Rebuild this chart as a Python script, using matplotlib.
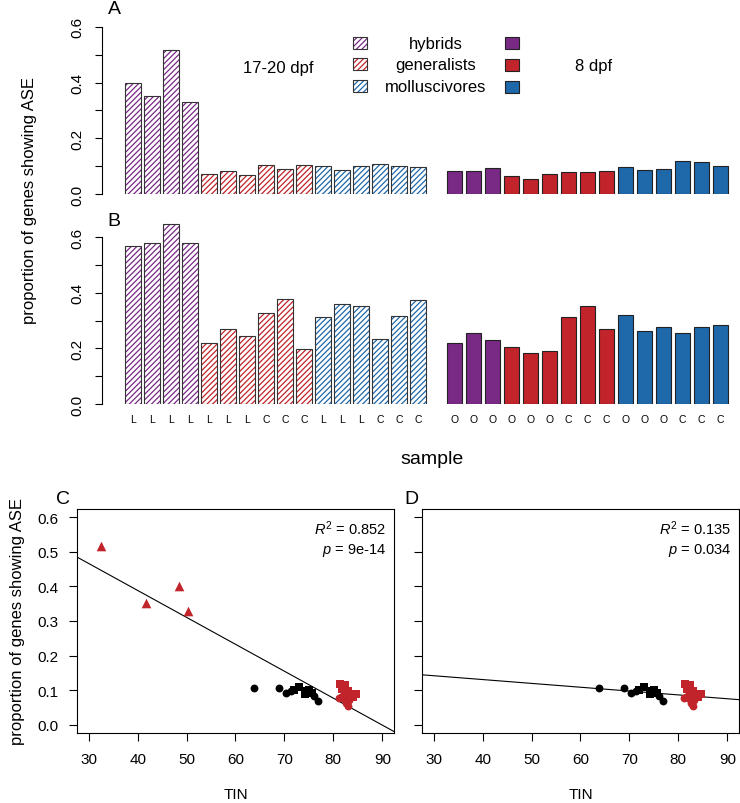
import matplotlib
matplotlib.use('Agg')
import matplotlib.pyplot as plt
from matplotlib.patches import Rectangle
import numpy as np

plt.rcParams['font.family'] = ['Liberation Sans', 'DejaVu Sans']
plt.rcParams['mathtext.fontset'] = 'custom'
plt.rcParams['mathtext.rm'] = 'Liberation Sans'
plt.rcParams['mathtext.it'] = 'Liberation Sans:italic'
plt.rcParams['hatch.linewidth'] = 0.9

# --- bar data: 17-20 dpf (hatched) and 8 dpf (solid)
grp_old = ['hybrids'] * 4 + ['generalists'] * 6 + ['molluscivores'] * 6
grp_new = ['hybrids'] * 3 + ['generalists'] * 6 + ['molluscivores'] * 6
ase_A_old = [0.399, 0.353, 0.517, 0.329, 0.073, 0.083, 0.069, 0.105, 0.090, 0.105,
             0.100, 0.086, 0.100, 0.108, 0.102, 0.098]
ase_A_new = [0.081, 0.081, 0.092, 0.063, 0.055, 0.072, 0.078, 0.078, 0.081,
             0.098, 0.087, 0.088, 0.117, 0.114, 0.102]
ase_B_old = [0.567, 0.579, 0.648, 0.579, 0.218, 0.269, 0.245, 0.329, 0.378, 0.198,
             0.313, 0.361, 0.352, 0.235, 0.318, 0.375]
ase_B_new = [0.220, 0.257, 0.230, 0.204, 0.182, 0.190, 0.313, 0.351, 0.271,
             0.319, 0.262, 0.278, 0.257, 0.277, 0.286]
lab_old = list('LLLLLLLCCCLLLCCC')
lab_new = list('OOOOOOCCCOOOCCC')
legend_names = ['hybrids', 'generalists', 'molluscivores']

# --- scatter data: TIN vs proportion showing ASE
tin_tri = [32.6, 41.8, 48.5, 50.3]
ase_tri = [0.518, 0.353, 0.401, 0.329]
tin_blk_circ = [63.7, 68.8, 70.4, 71.4, 76.0, 76.8]
ase_blk_circ = [0.105, 0.105, 0.091, 0.098, 0.083, 0.069]
tin_blk_sq = [72.0, 73.0, 74.2, 74.5, 75.0, 75.6]
ase_blk_sq = [0.100, 0.108, 0.090, 0.097, 0.100, 0.092]
tin_red_sq = [81.3, 82.4, 81.8, 83.0, 83.4, 84.6, 84.0]
ase_red_sq = [0.117, 0.114, 0.102, 0.098, 0.087, 0.088, 0.081]
tin_red_circ = [82.2, 81.5, 82.0, 82.6, 81.2, 83.2, 82.5, 82.9]
ase_red_circ = [0.088, 0.081, 0.078, 0.081, 0.078, 0.072, 0.063, 0.055]
fit_C = (0.70, -0.00779)   # intercept, slope
fit_D = (0.175, -0.00111)
stats_C = ('0.852', '9e-14')
stats_D = ('0.135', '0.034')

col = {'hybrids': '#782A85', 'generalists': '#C1242B', 'molluscivores': '#1F68AA'}
red = '#C1242B'
edge = '#333333'

W, H = 740, 804
fig = plt.figure(figsize=(W / 100, H / 100), dpi=100)


def box(l, t, r, b):
    return [l / W, 1 - b / H, (r - l) / W, (b - t) / H]


def fp(x, y):
    return (x / W, 1 - y / H)


pos_old = np.arange(len(ase_A_old)) * 1.2 + 0.5
pos_new = 20.32 + np.arange(len(ase_A_new)) * 1.2 + 0.5
c_old = [col[g] for g in grp_old]
c_new = [col[g] for g in grp_new]


def bar_panel(rect, ylim, v_old, v_new):
    ax = fig.add_axes(rect)
    ax.bar(pos_old, v_old, width=1, color='none', edgecolor=c_old, hatch='//////', linewidth=0)
    ax.bar(pos_old, v_old, width=1, fill=False, edgecolor=edge, linewidth=0.8)
    ax.bar(pos_new, v_new, width=1, color=c_new, edgecolor='#222222', linewidth=0.8)
    ax.set_xlim(-1.45, 38.85)
    ax.set_ylim(*ylim)
    for s in ['top', 'right', 'bottom']:
        ax.spines[s].set_visible(False)
    ax.spines['left'].set_bounds(0, 0.6)
    ax.spines['left'].set_linewidth(0.8)
    ax.set_yticks(np.arange(0, 0.61, 0.1))
    ax.set_yticklabels(['0.0', '', '0.2', '', '0.4', '', '0.6'])
    ax.tick_params(axis='y', length=5, width=0.8, labelsize=11, pad=8)
    plt.setp(ax.get_yticklabels(), rotation=90, va='center', ha='right')
    return ax


axA = bar_panel(box(102, 14, 740, 195), (0, 0.65), ase_A_old, ase_A_new)
axA.set_xticks([])
axB = bar_panel(box(102, 216, 740, 405), (0, 0.68), ase_B_old, ase_B_new)
axB.set_xticks(np.concatenate([pos_old, pos_new]))
axB.set_xticklabels(lab_old + lab_new)
axB.tick_params(axis='x', length=0, labelsize=7.5, pad=7)

# legend A
for i, name in enumerate(legend_names):
    yc = [43.5, 64.5, 86.5][i]
    x0, y0 = fp(353, yc + 6)
    fig.add_artist(Rectangle((x0, y0), 14 / W, 12 / H, transform=fig.transFigure,
                             facecolor='none', edgecolor=col[name], hatch='//////', linewidth=0))
    fig.add_artist(Rectangle((x0, y0), 14 / W, 12 / H, transform=fig.transFigure,
                             fill=False, edgecolor=edge, linewidth=0.8))
    fig.text(*fp(436, yc + 1), name, ha='center', va='center', fontsize=12)
    yc2 = [43.5, 65.5, 88][i]
    x0, y0 = fp(505, yc2 + 6)
    fig.add_artist(Rectangle((x0, y0), 14 / W, 12 / H, transform=fig.transFigure,
                             facecolor=col[name], edgecolor='#222222', linewidth=0.8))
fig.text(*fp(278, 68), '17-20 dpf', ha='center', va='center', fontsize=12)
fig.text(*fp(594, 67), '8 dpf', ha='center', va='center', fontsize=12)

fig.text(*fp(114, 9), 'A', ha='center', va='center', fontsize=14)
fig.text(*fp(114, 222), 'B', ha='center', va='center', fontsize=14)
fig.text(*fp(30, 200), 'proportion of genes showing ASE', rotation=90,
         ha='center', va='center', fontsize=12)
fig.text(*fp(432, 460), 'sample', ha='center', va='center', fontsize=14)


# scatter panels
def scatter_panel(rect, fit, stats, tri):
    ax = fig.add_axes(rect)
    if tri:
        ax.scatter(tin_tri, ase_tri, marker='^', s=48, color=red, linewidths=0, zorder=3)
    ax.scatter(tin_blk_circ, ase_blk_circ, marker='o', s=32, color='black', linewidths=0, zorder=3)
    ax.scatter(tin_blk_sq, ase_blk_sq, marker='s', s=34, color='black', linewidths=0, zorder=3)
    ax.scatter(tin_red_sq, ase_red_sq, marker='s', s=34, color=red, linewidths=0, zorder=3)
    ax.scatter(tin_red_circ, ase_red_circ, marker='o', s=32, color=red, linewidths=0, zorder=3)
    ax.axline((0, fit[0]), slope=fit[1], color='black', linewidth=0.8, zorder=2)
    ax.set_xlim(27.6, 92.4)
    ax.set_ylim(-0.024, 0.624)
    ax.set_xticks(np.arange(30, 91, 10))
    ax.set_yticks(np.arange(0, 0.61, 0.1))
    ax.set_yticklabels(['%.1f' % v for v in np.arange(0, 0.61, 0.1)])
    for s in ax.spines.values():
        s.set_linewidth(0.8)
    ax.tick_params(length=6, width=0.8, labelsize=11)
    ax.tick_params(axis='x', pad=8)
    ax.tick_params(axis='y', pad=7)
    ax.text(0.975, 0.915, r'$R^2$ = ' + stats[0], transform=ax.transAxes,
            ha='right', va='center', fontsize=10.5)
    ax.text(0.975, 0.82, r'$p$ = ' + stats[1], transform=ax.transAxes,
            ha='right', va='center', fontsize=10.5)
    return ax


axC = scatter_panel(box(77, 510, 394, 734), fit_C, stats_C, True)
axD = scatter_panel(box(422, 510, 739, 734), fit_D, stats_D, False)
axD.set_yticklabels([])
fig.text(*fp(235.5, 795), 'TIN', ha='center', va='center', fontsize=11)
fig.text(*fp(580.5, 795), 'TIN', ha='center', va='center', fontsize=11)
fig.text(*fp(18, 622), 'proportion of genes showing ASE', rotation=90,
         ha='center', va='center', fontsize=12)
fig.text(*fp(63, 500), 'C', ha='center', va='center', fontsize=14)
fig.text(*fp(411, 500), 'D', ha='center', va='center', fontsize=14)

fig.savefig('out.png', dpi=100)
